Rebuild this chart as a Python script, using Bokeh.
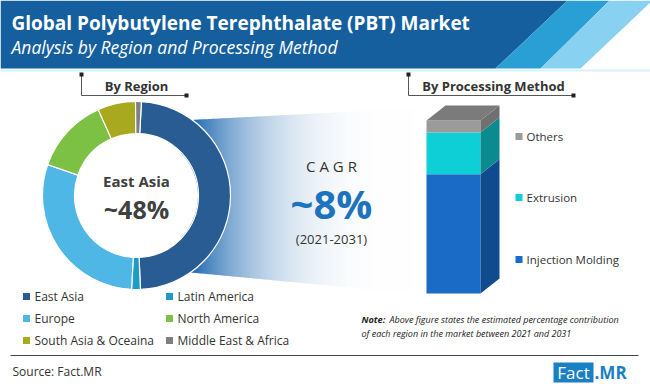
from bokeh.plotting import figure
from bokeh.models import Range1d
from bokeh.embed import file_html
from bokeh.resources import INLINE
from bokeh.core.properties import value
import numpy as np

# ---------------- data ----------------
title = "Global Polybutylene Terephthalate (PBT) Market"
subtitle = "Analysis by Region and Processing Method"

regions = ["East Asia", "Latin America", "Europe", "North America",
           "South Asia & Oceaina", "Middle East & Africa"]
region_share = [48.5, 1.5, 29.5, 13.0, 6.5, 1.0]
region_colors = ["#295c93", "#1e9cc8", "#4eb7e6", "#7cc143", "#a9a91f", "#7f7f7f"]

legend_col1 = ["East Asia", "Europe", "South Asia & Oceaina"]
legend_col2 = ["Latin America", "North America", "Middle East & Africa"]

methods = ["Injection Molding", "Extrusion", "Others"]
method_share = [69, 24, 7]
method_front = ["#1a6bc6", "#0fcfd6", "#9b9b9b"]
method_side = ["#0f4b8e", "#0b8a90", "#707070"]

cagr_label = "C A G R"
cagr_value = "~8%"
cagr_period = "(2021-2031)"
focus_label = "East Asia"
focus_value = "~48%"

W, H = 650, 388
def Y(py):
    return H - py

FONT = value("Open Sans")

p = figure(width=W, height=H, x_range=Range1d(0, W), y_range=Range1d(0, H),
           output_backend="svg", toolbar_location=None, min_border=0,
           x_axis_location=None, y_axis_location=None)
p.grid.visible = False
p.outline_line_color = None
p.background_fill_color = "white"
p.border_fill_color = "white"

# ---------------- header ----------------
p.patch([0, 567, 495, 0], [Y(0), Y(0), Y(68), Y(68)], fill_color="#165f9f", line_color=None)
p.patch([567, 609, 540, 495], [Y(0), Y(0), Y(68), Y(68)], fill_color="#2a9fd6", line_color=None)
p.patch([609, 652, 580, 540], [Y(0), Y(0), Y(68), Y(68)], fill_color="#88d1f0", line_color=None)
p.line([0, 650], [Y(70), Y(70)], line_color="#d9f1fb", line_width=2)

p.text(x=[11], y=[Y(22)], text=[title], text_font=FONT, text_font_size="19px",
       text_font_style="bold", text_color="white", text_baseline="middle")
p.text(x=[11], y=[Y(46)], text=[subtitle], text_font=FONT, text_font_size="17.5px",
       text_font_style="italic", text_color="white", text_baseline="middle")

# ---------------- brackets ----------------
for (x0, x1, label, cx) in [(81, 186, "By Region", 136), (408, 573, "By Processing Method", 493)]:
    p.line([x0, x0, x1], [Y(74), Y(95), Y(95)], line_color="#555555", line_width=1)
    p.scatter([x0, x1], [Y(74), Y(95)], marker="square", size=4, fill_color="#222222", line_color=None)
    p.text(x=[cx], y=[Y(85)], text=[label], text_font=FONT, text_font_size="13px",
           text_font_style="bold", text_color="#333333", text_align="center", text_baseline="middle")

# ---------------- gradient funnel ----------------
gx0, gx1 = 180, 413
xs, ys, cols = [], [], []
base = np.array([0x2a, 0x70, 0xb5])
step = 2
def top(x): return 120 - (x - gx0) * 12 / (gx1 - gx0)
def bot(x): return 271 + (x - gx0) * 22 / (gx1 - gx0)
for xa in range(gx0, gx1, step):
    xb = min(xa + step, gx1)
    t = max(0.0, ((xa + xb) / 2 - 195) / (gx1 - 195))
    a = (1 - t) ** 3
    c = (255 * (1 - a) + base * a).astype(int)
    xs.append([xa, xb + 0.6, xb + 0.6, xa])
    ys.append([Y(top(xa)), Y(top(xb)), Y(bot(xb)), Y(bot(xa))])
    cols.append("#%02x%02x%02x" % tuple(c))
p.patches(xs, ys, fill_color=cols, line_color=None)

# ---------------- donut ----------------
cx, cy = 136, 195
r_out, r_in = 94, 62
offset = np.deg2rad(3)
cum = np.concatenate([[0], np.cumsum(region_share)]) / sum(region_share)
start = np.pi / 2 - offset - 2 * np.pi * cum[:-1]
end = np.pi / 2 - offset - 2 * np.pi * cum[1:]
p.annular_wedge(x=cx, y=Y(cy), inner_radius=r_in, outer_radius=r_out,
                start_angle=list(start), end_angle=list(end), direction="clock",
                fill_color=region_colors, line_color="white", line_width=1.2)
p.scatter([cx], [Y(cy)], marker="circle", size=2 * r_in - 1, fill_color="white", line_color=None)

p.text(x=[cx], y=[Y(180)], text=[focus_label], text_font=FONT, text_font_size="15px",
       text_font_style="bold", text_color="#404040", text_align="center", text_baseline="middle")
p.text(x=[cx], y=[Y(208)], text=[focus_value], text_font=FONT, text_font_size="25px",
       text_font_style="bold", text_color="#404040", text_align="center", text_baseline="middle")

# ---------------- CAGR ----------------
p.text(x=[331], y=[Y(165)], text=[cagr_label], text_font=FONT, text_font_size="15px",
       text_color="#333333", text_align="center", text_baseline="middle")
p.text(x=[331], y=[Y(203)], text=[cagr_value], text_font=FONT, text_font_size="40px",
       text_font_style="bold", text_color="#1e73be", text_align="center", text_baseline="middle")
p.text(x=[331], y=[Y(238)], text=[cagr_period], text_font=FONT, text_font_size="13px",
       text_color="#333333", text_align="center", text_baseline="middle")

# ---------------- 3D stacked bar ----------------
bx0, bx1 = 426, 480
dx, dy = 19, 15
b_bottom, b_top = 293, 120
scale = (b_bottom - b_top) / sum(method_share)
mcum = np.concatenate([[0], np.cumsum(method_share)])
lows = [Y(b_bottom - v * scale) for v in mcum[:-1]]
highs = [Y(b_bottom - v * scale) for v in mcum[1:]]
p.quad(left=bx0, right=bx1, bottom=lows, top=highs, fill_color=method_front, line_color=None)
side_xs = [[bx1, bx1 + dx, bx1 + dx, bx1] for _ in methods]
side_ys = [[lo, lo + dy, hi + dy, hi] for lo, hi in zip(lows, highs)]
p.patches(side_xs, side_ys, fill_color=method_side, line_color=None)
p.patch([bx0, bx1, bx1 + dx, bx0 + dx], [highs[-1], highs[-1], highs[-1] + dy, highs[-1] + dy],
        fill_color="#7b7b7b", line_color=None)

legend_y = [259, 197, 136]
p.scatter([518.5] * 3, [Y(v) for v in legend_y], marker="square", size=7,
          fill_color=method_front, line_color=None)
p.text(x=[526] * 3, y=[Y(v) for v in legend_y], text=methods, text_font=FONT,
       text_font_size="11.5px", text_color="#333333", text_baseline="middle")

# ---------------- region legend ----------------
rows = [296, 318, 340]
col_map = dict(zip(regions, region_colors))
for sqx, tx, names in [(26, 34, legend_col1), (169, 177, legend_col2)]:
    p.scatter([sqx] * 3, [Y(v) for v in rows], marker="square", size=7,
              fill_color=[col_map[n] for n in names], line_color=None)
    p.text(x=[tx] * 3, y=[Y(v) for v in rows], text=names, text_font=FONT,
           text_font_size="12px", text_color="#333333", text_baseline="middle")

# ---------------- note ----------------
p.text(x=[361], y=[Y(319)], text=["Note:"], text_font=FONT, text_font_size="9.2px",
       text_font_style="bold italic", text_color="#222222", text_baseline="middle")
p.text(x=[389], y=[Y(319)], text=["Above figure states the estimated percentage contribution"],
       text_font=FONT, text_font_size="9px", text_font_style="italic", text_color="#222222",
       text_baseline="middle")
p.text(x=[361], y=[Y(333)], text=["of each region in the market between 2021 and 2031"],
       text_font=FONT, text_font_size="9px", text_font_style="italic", text_color="#222222",
       text_baseline="middle")

# ---------------- footer ----------------
p.line([10, 638], [Y(355), Y(355)], line_color="#444444", line_width=1)
p.text(x=[12], y=[Y(371)], text=["Source: Fact.MR"], text_font=FONT, text_font_size="12px",
       text_color="#333333", text_baseline="middle")
p.quad(left=553, right=593, bottom=Y(382), top=Y(362), fill_color="#1a80c4", line_color=None)
p.text(x=[573], y=[Y(372)], text=["Fact"], text_font=FONT, text_font_size="17px",
       text_color="white", text_align="center", text_baseline="middle")
p.text(x=[594], y=[Y(372)], text=[".MR"], text_font=FONT, text_font_size="17px",
       text_font_style="bold", text_color="#1a80c4", text_baseline="middle")

open("out.html", "w").write(file_html(p, INLINE))
